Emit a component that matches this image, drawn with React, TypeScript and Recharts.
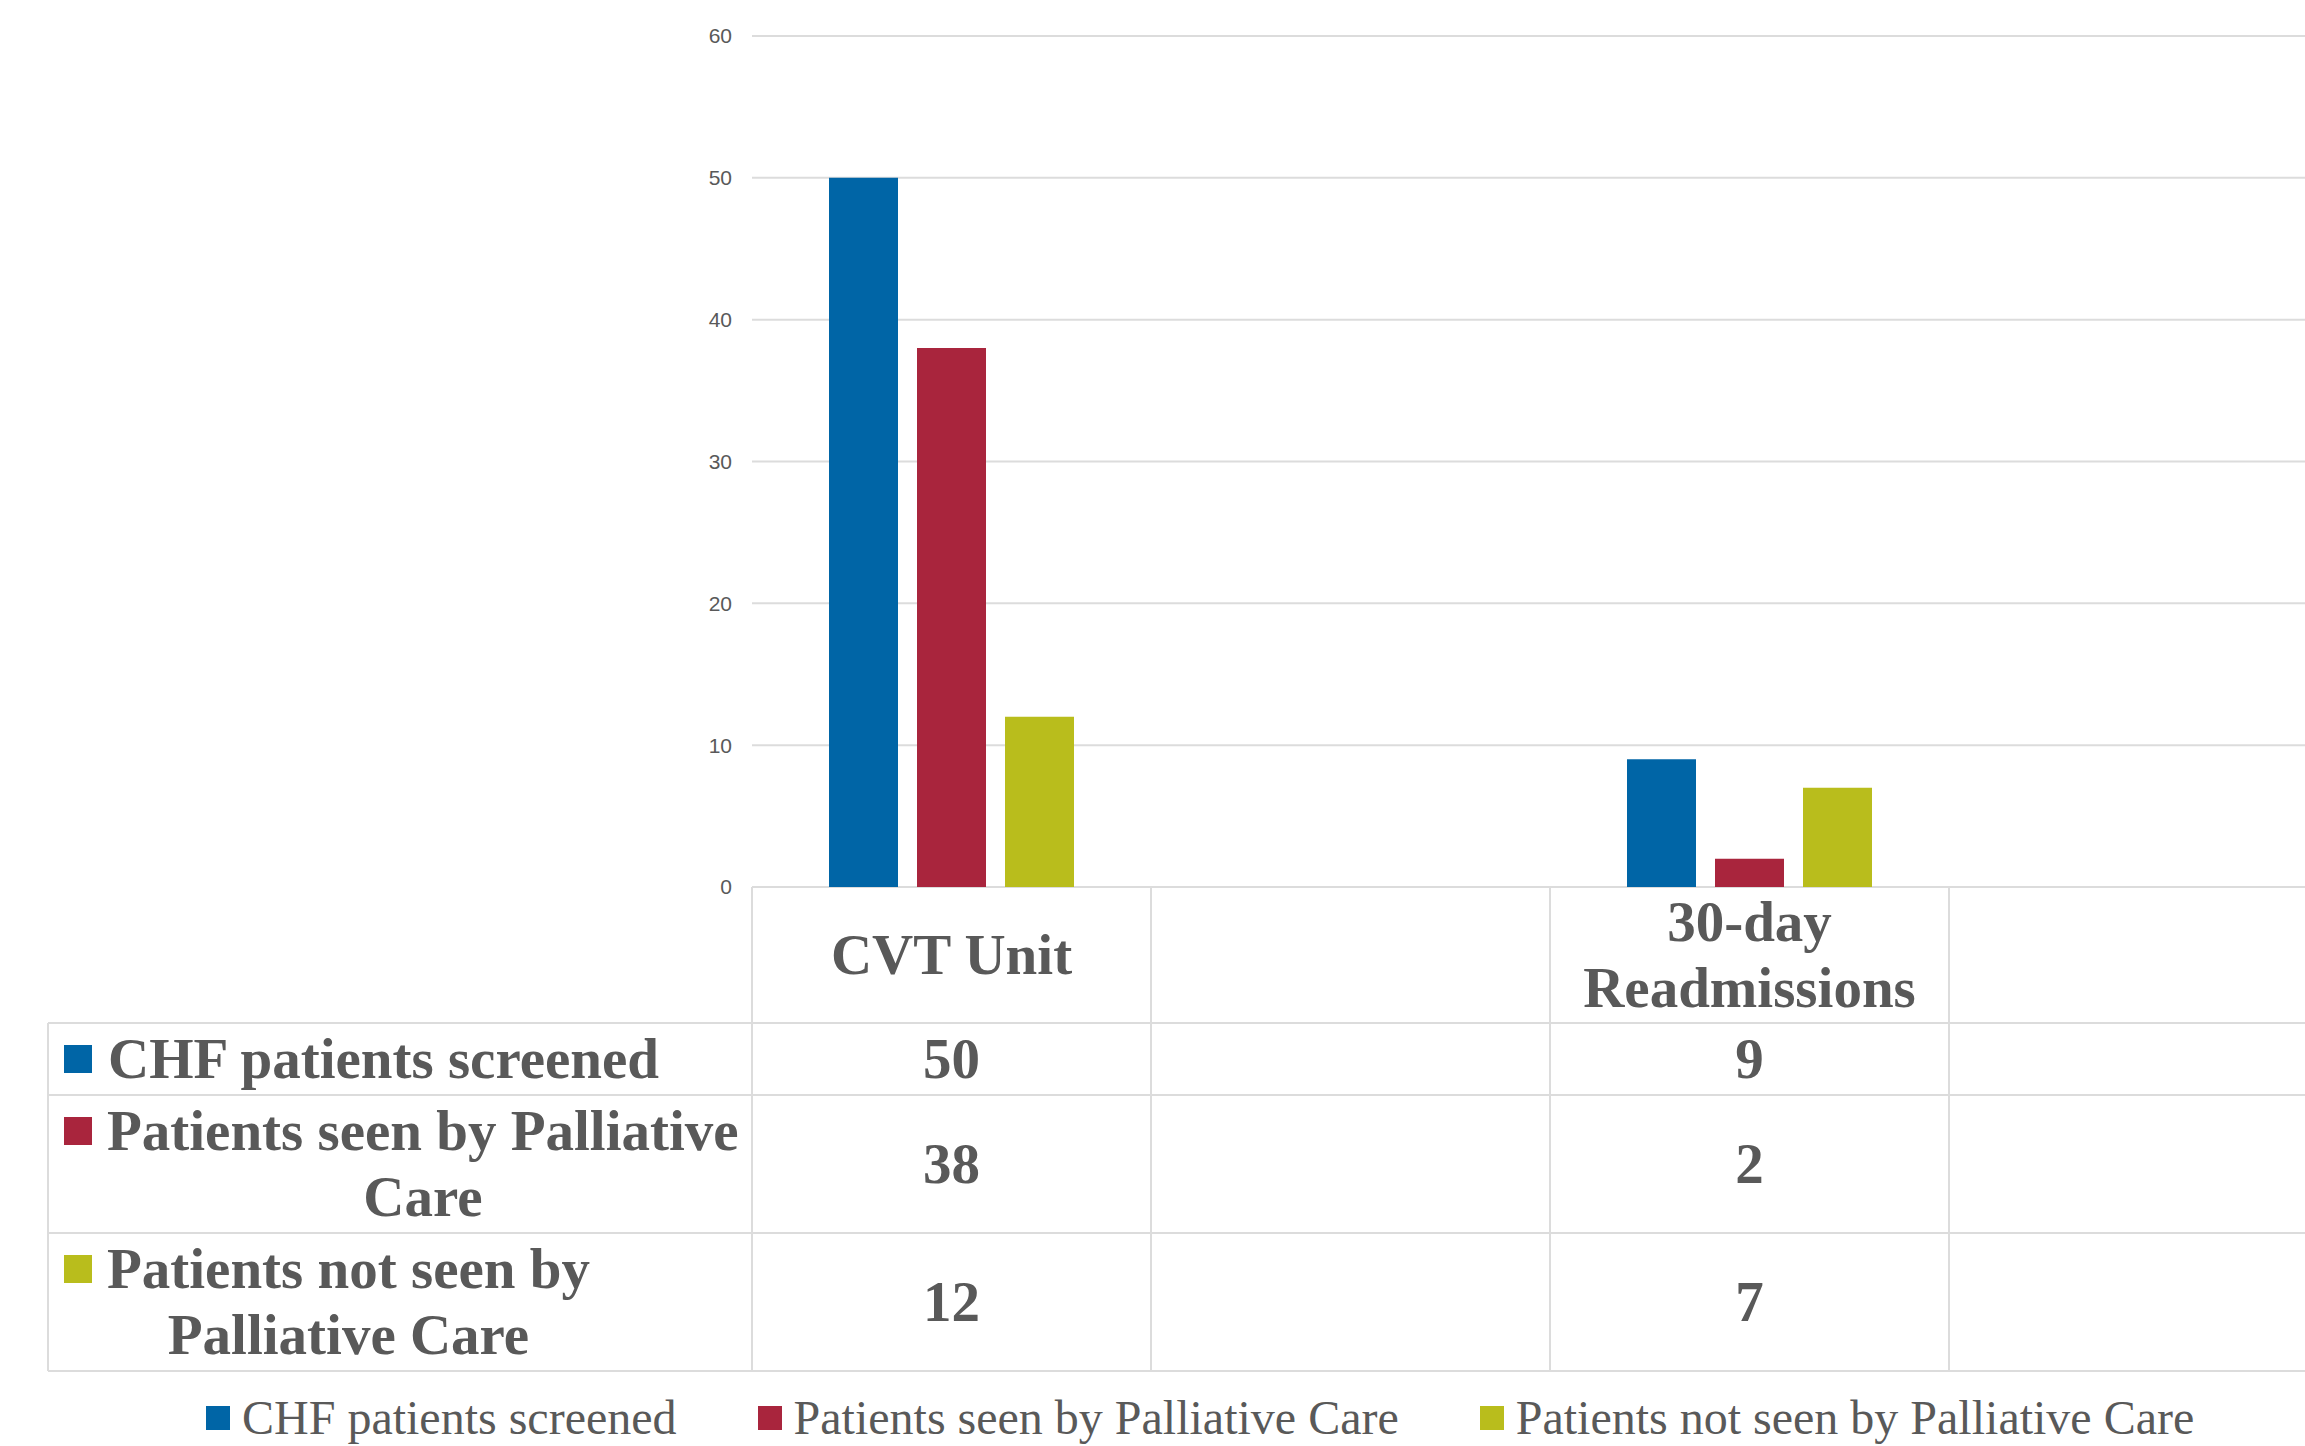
import React from 'react';
import { BarChart, Bar, XAxis, YAxis, CartesianGrid, Legend } from 'recharts';

// ---------- data ----------
const categories = ['CVT Unit', '', '30-day Readmissions', ''];
const seriesNames = [
  'CHF patients screened',
  'Patients seen by Palliative Care',
  'Patients not seen by Palliative Care',
];
const chfScreened = [50, null, 9, null];
const seenByPalliative = [38, null, 2, null];
const notSeenByPalliative = [12, null, 7, null];
const yTicks = [0, 10, 20, 30, 40, 50, 60];

const seriesKeys = ['screened', 'seen', 'notSeen'];
const seriesValues = [chfScreened, seenByPalliative, notSeenByPalliative];
const seriesColors = ['#0065A6', '#A9253D', '#B9BD1C'];

const data = categories.map((c, i) => ({
  key: `cat${i}`,
  label: c,
  screened: chfScreened[i],
  seen: seenByPalliative[i],
  notSeen: notSeenByPalliative[i],
}));

// ---------- layout ----------
const VIEW_W = 2305;
const VIEW_H = 1446;
const PLOT_LEFT = 752;
const COL_W = 399;
const CHART_W = PLOT_LEFT + COL_W * categories.length;
const YAXIS_W = 80;
const PLOT_TOP = 36;
const PLOT_BOTTOM = 887;
const LEGEND_H = 56;
const XAXIS_H = VIEW_H - LEGEND_H - PLOT_BOTTOM;

const TEXT = '#595959';
const LINE = '#DCDCDC';
const SERIF = "'Liberation Serif', 'Times New Roman', serif";
const SANS = "'Liberation Sans', Arial, sans-serif";
const TABLE_SIZE = 57;
const TABLE_FONT = `bold ${TABLE_SIZE}px ${SERIF}`;
const LINE_H = 66;
const BASE_SHIFT = 18.5;
const TABLE_LEFT = 48;
const KEY_X = 64;
const KEY_SIZE = 28;
const LABEL_X = 107;
const LABEL_MAX_W = PLOT_LEFT - LABEL_X - 7;
const HEADER_MAX_W = COL_W - 20;

let measureCtx: CanvasRenderingContext2D | null = null;
function measure(text: string): number {
  if (!measureCtx && typeof document !== 'undefined') {
    measureCtx = document.createElement('canvas').getContext('2d');
  }
  if (!measureCtx) return text.length * TABLE_SIZE * 0.5;
  measureCtx.font = TABLE_FONT;
  return measureCtx.measureText(text).width;
}

function wrap(text: string, maxW: number): string[] {
  if (!text) return [];
  const words = text.split(' ');
  const lines: string[] = [];
  let cur = '';
  for (const w of words) {
    const t = cur ? cur + ' ' + w : w;
    if (cur && measure(t) > maxW) {
      lines.push(cur);
      cur = w;
    } else cur = t;
  }
  if (cur) lines.push(cur);
  return lines;
}

type Layout = {
  headerLines: string[][];
  headerH: number;
  labelLines: string[][];
  labelWidths: number[];
  rowTops: number[];
  rowHeights: number[];
  tableBottom: number;
};
let layoutCache: Layout | null = null;
function getLayout(): Layout {
  if (layoutCache) return layoutCache;
  const headerLines = categories.map((c) => wrap(c, HEADER_MAX_W));
  const maxHeader = Math.max(1, ...headerLines.map((l) => l.length));
  const headerH = maxHeader * LINE_H + 4;
  const labelLines = seriesNames.map((n) => wrap(n, LABEL_MAX_W));
  const labelWidths = labelLines.map((ls) => Math.max(...ls.map((l) => measure(l))));
  const rowHeights = labelLines.map((ls) => ls.length * LINE_H + 6);
  const rowTops: number[] = [];
  let acc = headerH;
  rowHeights.forEach((h) => {
    rowTops.push(acc);
    acc += h;
  });
  layoutCache = { headerLines, headerH, labelLines, labelWidths, rowTops, rowHeights, tableBottom: acc };
  return layoutCache;
}

const textProps = {
  fontFamily: SERIF,
  fontWeight: 'bold' as const,
  fontSize: TABLE_SIZE,
  fill: TEXT,
};

function TableTick(props: any) {
  const { x, y, index } = props;
  const L = getLayout();
  const left = x - COL_W / 2;
  const right = x + COL_W / 2;
  const hBottom = y + L.headerH;
  const tBottom = y + L.tableBottom;
  const rowBottoms = L.rowTops.map((t, r) => y + t + L.rowHeights[r]);
  const els: React.ReactNode[] = [];

  // column borders
  els.push(<line key="vl" x1={left} x2={left} y1={y} y2={tBottom} stroke={LINE} strokeWidth={2} />);
  if (index === categories.length - 1) {
    els.push(<line key="vr" x1={right} x2={right} y1={y} y2={tBottom} stroke={LINE} strokeWidth={2} />);
  }
  [hBottom, ...rowBottoms].forEach((yy, k) => {
    els.push(<line key={`h${k}`} x1={left} x2={right} y1={yy} y2={yy} stroke={LINE} strokeWidth={2} />);
  });

  // header text
  const hl = L.headerLines[index] || [];
  const hCenter = y + L.headerH / 2;
  hl.forEach((line, k) => {
    const cy = hCenter + (k - (hl.length - 1) / 2) * LINE_H;
    els.push(
      <text key={`ht${k}`} x={x} y={cy + BASE_SHIFT} textAnchor="middle" {...textProps}>
        {line}
      </text>
    );
  });

  // values
  seriesValues.forEach((vals, r) => {
    const v = vals[index];
    if (v === null || v === undefined) return;
    const cy = y + L.rowTops[r] + L.rowHeights[r] / 2;
    els.push(
      <text key={`v${r}`} x={x} y={cy + BASE_SHIFT} textAnchor="middle" {...textProps}>
        {v}
      </text>
    );
  });

  // left label column
  if (index === 0) {
    els.push(<line key="tl" x1={TABLE_LEFT} x2={TABLE_LEFT} y1={hBottom} y2={tBottom} stroke={LINE} strokeWidth={2} />);
    [hBottom, ...rowBottoms].forEach((yy, k) => {
      els.push(<line key={`lh${k}`} x1={TABLE_LEFT} x2={left} y1={yy} y2={yy} stroke={LINE} strokeWidth={2} />);
    });
    L.labelLines.forEach((lines, r) => {
      const top = y + L.rowTops[r];
      const h = L.rowHeights[r];
      const cy0 = top + h / 2 - ((lines.length - 1) / 2) * LINE_H;
      const blockCx = LABEL_X + L.labelWidths[r] / 2;
      els.push(
        <rect key={`k${r}`} x={KEY_X} y={cy0 - KEY_SIZE / 2} width={KEY_SIZE} height={KEY_SIZE} fill={seriesColors[r]} />
      );
      lines.forEach((line, k) => {
        els.push(
          <text key={`l${r}-${k}`} x={blockCx} y={cy0 + k * LINE_H + BASE_SHIFT} textAnchor="middle" {...textProps}>
            {line}
          </text>
        );
      });
    });
  }
  return <g>{els}</g>;
}

const renderLegend = (props: any) => {
  const payload = [...(props.payload || [])].sort(
    (a: any, b: any) => seriesNames.indexOf(a.value) - seriesNames.indexOf(b.value)
  );
  return (
    <div
      style={{
        display: 'flex',
        alignItems: 'center',
        height: LEGEND_H,
        paddingLeft: 206,
        boxSizing: 'border-box',
        fontFamily: SERIF,
        fontSize: 48,
        color: TEXT,
        whiteSpace: 'nowrap',
      }}
    >
      {payload.map((e: any, k: number) => (
        <div key={k} style={{ display: 'flex', alignItems: 'center', marginRight: 81 }}>
          <span style={{ display: 'inline-block', width: 24, height: 24, background: e.color, marginRight: 12 }} />
          <span style={{ lineHeight: 1 }}>{e.value}</span>
        </div>
      ))}
    </div>
  );
};

export default function App() {
  return (
    <div
      style={{
        position: 'absolute',
        left: 0,
        top: 0,
        width: VIEW_W,
        height: VIEW_H,
        overflow: 'hidden',
        background: '#fff',
      }}
    >
      <BarChart
        width={CHART_W}
        height={VIEW_H}
        data={data}
        margin={{ top: PLOT_TOP, right: 0, bottom: 0, left: PLOT_LEFT - YAXIS_W }}
        barGap={19}
      >
        <CartesianGrid vertical={false} stroke={LINE} strokeWidth={2} />
        <YAxis
          width={YAXIS_W}
          domain={[0, 60]}
          ticks={yTicks}
          interval={0}
          axisLine={false}
          tickLine={false}
          tickSize={0}
          tickMargin={20}
          tick={{ fontSize: 21, fill: TEXT, fontFamily: SANS }}
        />
        <XAxis
          dataKey="key"
          height={XAXIS_H}
          interval={0}
          axisLine={false}
          tickLine={false}
          tickSize={0}
          tickMargin={0}
          tick={(p: any) => <TableTick {...p} />}
        />
        <Legend
          verticalAlign="bottom"
          align="left"
          height={LEGEND_H}
          width={VIEW_W}
          itemSorter={null as any}
          wrapperStyle={{ left: 0, bottom: 0, width: VIEW_W }}
          content={renderLegend}
        />
        {seriesKeys.map((k, i) => (
          <Bar
            key={k}
            dataKey={k}
            name={seriesNames[i]}
            fill={seriesColors[i]}
            barSize={69}
            isAnimationActive={false}
          />
        ))}
      </BarChart>
    </div>
  );
}
